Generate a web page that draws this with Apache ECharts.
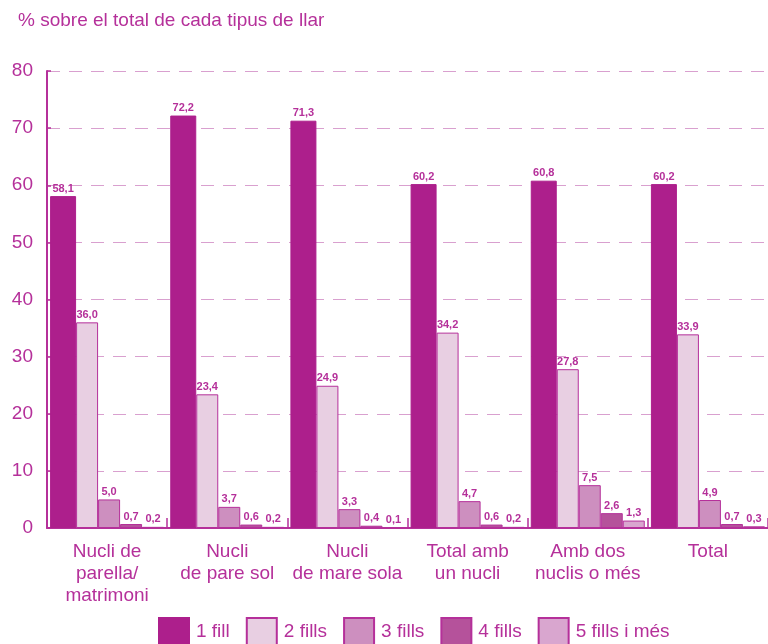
<!DOCTYPE html>
<html>
<head>
<meta charset="utf-8">
<script src="https://cdn.jsdelivr.net/npm/echarts@6/dist/echarts.min.js"></script>
<style>
  html, body { margin: 0; padding: 0; background: #fff; }
  #chart { width: 768px; height: 644px; }
</style>
</head>
<body>
<div id="chart"></div>
<script>
// Household types (categories on the x axis)
const categories = [
  'Nucli de\nparella/\nmatrimoni',
  'Nucli\nde pare sol',
  'Nucli\nde mare sola',
  'Total amb\nun nucli',
  'Amb dos\nnuclis o més',
  'Total'
];

// Share of households by number of children, per household type
const seriesNames = ['1 fill', '2 fills', '3 fills', '4 fills', '5 fills i més'];
const fill1 = [58.1, 72.2, 71.3, 60.2, 60.8, 60.2];
const fill2 = [36.0, 23.4, 24.9, 34.2, 27.8, 33.9];
const fill3 = [5.0, 3.7, 3.3, 4.7, 7.5, 4.9];
const fill4 = [0.7, 0.6, 0.4, 0.6, 2.6, 0.7];
const fill5 = [0.2, 0.2, 0.1, 0.2, 1.3, 0.3];

const yTicks = [0, 10, 20, 30, 40, 50, 60, 70, 80];

const ink = '#b5309a';
const fills = ['#ad1f8c', '#e8cfe2', '#cd8fbf', '#b5529b', '#d9a6cf'];
const widths = [26, 22, 22, 22, 22];
const values = [fill1, fill2, fill3, fill4, fill5];
const font = '"Liberation Sans", Arial, sans-serif';

const chart = echarts.init(document.getElementById('chart'), null, { renderer: 'canvas' });

const series = values.map((data, i) => ({
  name: seriesNames[i],
  type: 'bar',
  data: data,
  barWidth: widths[i],
  barGap: '0%',
  itemStyle: {
    color: fills[i],
    borderColor: i === 0 ? fills[0] : ink,
    borderWidth: 1
  },
  label: {
    show: true,
    position: 'top',
    distance: 2,
    color: ink,
    fontFamily: font,
    fontWeight: 'bold',
    fontSize: 11,
    formatter: p => p.value.toFixed(1).replace('.', ',')
  }
}));

chart.setOption({
  animation: false,
  backgroundColor: '#ffffff',
  textStyle: { fontFamily: font },
  title: {
    text: '% sobre el total de cada tipus de llar',
    left: 13,
    top: 6,
    textStyle: { color: ink, fontSize: 19, fontWeight: 'normal', fontFamily: font }
  },
  legend: {
    data: seriesNames,
    left: 153,
    top: 612,
    itemWidth: 30,
    itemHeight: 28,
    itemGap: 16,
    textStyle: { color: ink, fontSize: 19, fontFamily: font, padding: [0, 0, 0, 2] },
    icon: 'rect'
  },
  grid: { left: 47, right: 0, top: 71, bottom: 116, containLabel: false },
  xAxis: {
    type: 'category',
    data: categories,
    axisLine: { lineStyle: { color: ink, width: 2 } },
    axisTick: { show: true, inside: true, length: 10, lineStyle: { color: ink, width: 1.5 } },
    axisLabel: {
      color: ink,
      fontSize: 19,
      fontFamily: font,
      lineHeight: 22,
      margin: 13,
      interval: 0
    }
  },
  yAxis: {
    type: 'value',
    min: yTicks[0],
    max: yTicks[yTicks.length - 1],
    interval: 10,
    axisLine: { show: true, lineStyle: { color: ink, width: 2 } },
    axisTick: { show: true, inside: true, length: 4, lineStyle: { color: ink, width: 1.5 } },
    axisLabel: { color: ink, fontSize: 19, fontFamily: font, margin: 14 },
    splitLine: { show: true, lineStyle: { color: '#d9a0cf', type: [13, 9], width: 1 } }
  },
  series: series
});
</script>
</body>
</html>
